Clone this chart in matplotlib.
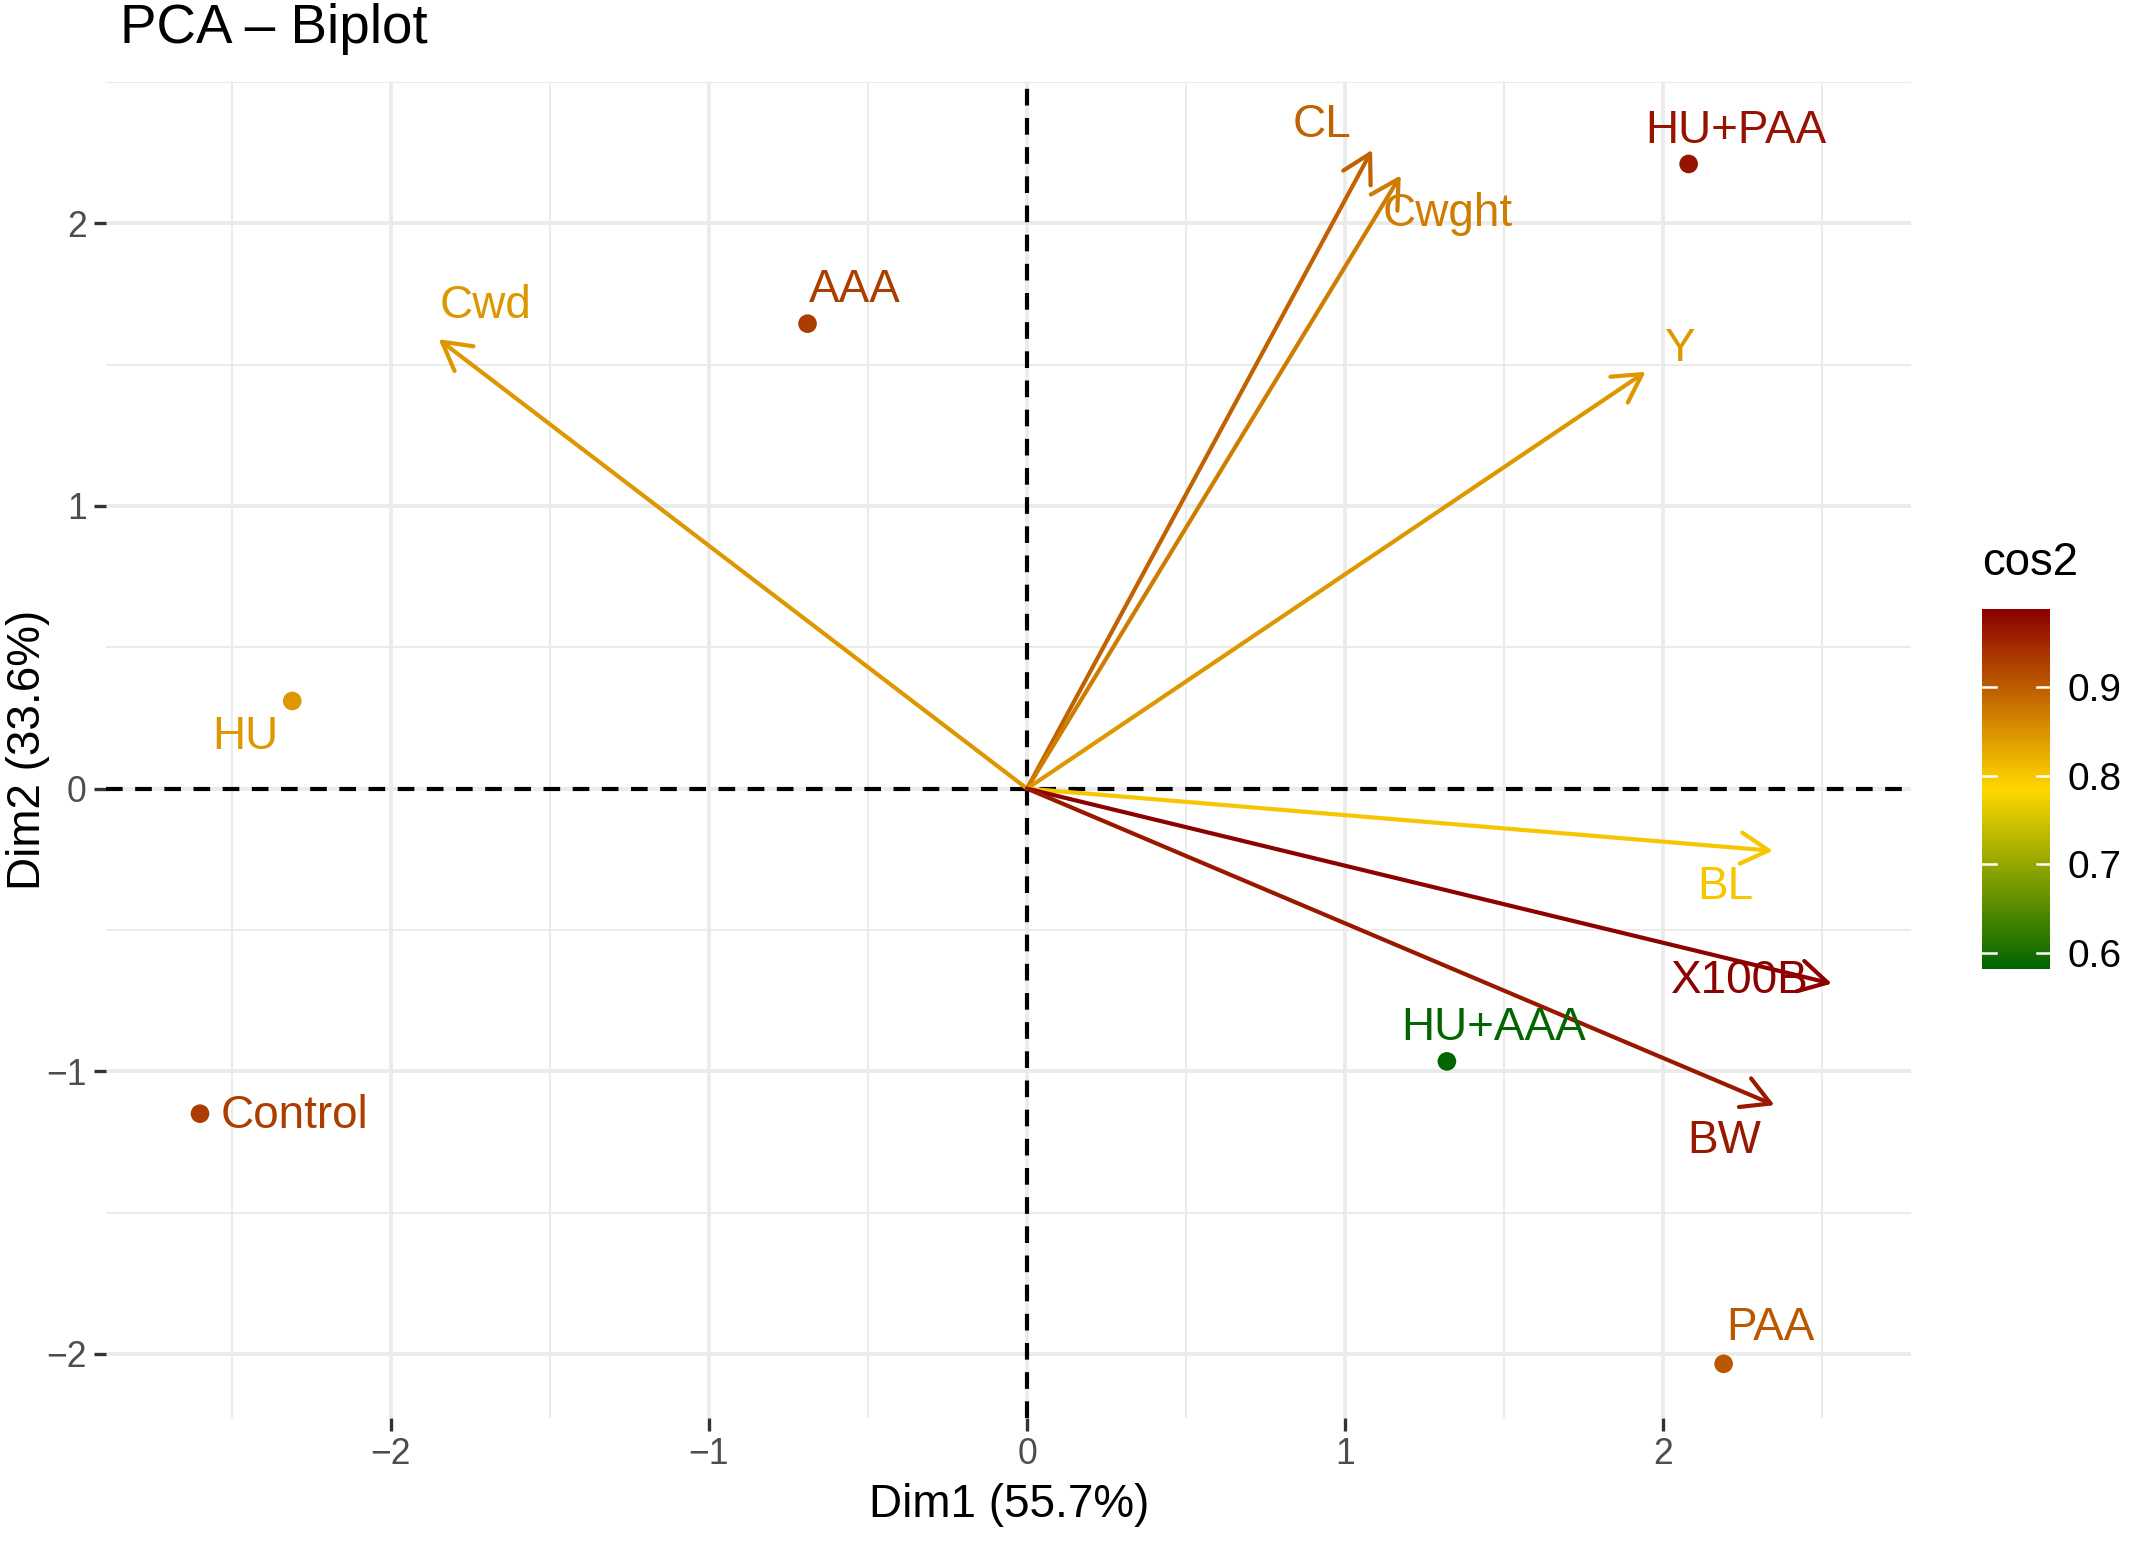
import matplotlib
matplotlib.use("Agg")
from matplotlib import pyplot as plt
from matplotlib.colors import LinearSegmentedColormap, Normalize
import numpy as np

plt.rcParams['font.family'] = ['Liberation Sans', 'DejaVu Sans']

# individuals (PCA coordinates + cos2)
ind_names = ['HU+PAA', 'AAA', 'HU', 'Control', 'HU+AAA', 'PAA']
ind_x = [2.08, -0.69, -2.31, -2.60, 1.32, 2.19]
ind_y = [2.21, 1.645, 0.31, -1.15, -0.965, -2.035]
ind_cos2 = [0.97, 0.93, 0.845, 0.93, 0.585, 0.905]

# variables (arrow tips + cos2)
var_names = ['CL', 'Cwght', 'Cwd', 'Y', 'BL', 'X100B', 'BW']
var_x = [1.085, 1.175, -1.85, 1.945, 2.345, 2.53, 2.35]
var_y = [2.26, 2.17, 1.59, 1.475, -0.22, -0.69, -1.12]
var_cos2 = [0.895, 0.87, 0.845, 0.845, 0.80, 0.985, 0.965]

cos2_min, cos2_max = 0.582, 0.988

# label offsets in points
ind_off = [(17, 12), (17, 12), (-17, -13), (34, -1), (17, 12), (17, 13)]
var_off = [(-18, 9), (17, -14), (17, 12), (12, 8), (-17, -13), (-33, 1), (-18, -13)]

cmap = LinearSegmentedColormap.from_list('cos2', ['#006400', '#FFD700', '#8B0000'])
norm = Normalize(vmin=cos2_min, vmax=cos2_max)

fig = plt.figure(figsize=(10.68, 7.735), dpi=200)
ax = fig.add_axes([0.0497, 0.0837, 0.8451, 0.8633])

ax.set_xlim(-2.895, 2.78)
ax.set_ylim(-2.225, 2.475)
for s in ax.spines.values():
    s.set_visible(False)

ax.set_xticks([-2, -1, 0, 1, 2])
ax.set_yticks([-2, -1, 0, 1, 2])
ax.set_xticks(np.arange(-2.5, 2.6, 1.0), minor=True)
ax.set_yticks(np.arange(-1.5, 2.6, 1.0), minor=True)
ax.grid(which='major', color='#EBEBEB', lw=1.4)
ax.grid(which='minor', color='#EBEBEB', lw=0.7)
ax.set_axisbelow(True)
ax.tick_params(which='major', length=4.5, width=1.2, color='#333333',
               labelsize=12.8, labelcolor='#4D4D4D', pad=2.5)
ax.tick_params(which='minor', length=0)

ax.axhline(0, color='black', lw=1.5, ls=(0, (4, 3)), zorder=2)
ax.axvline(0, color='black', lw=1.5, ls=(0, (4, 3)), zorder=2)

# variable arrows
for name, x, y, c, off in zip(var_names, var_x, var_y, var_cos2, var_off):
    col = cmap(norm(c))
    ax.annotate('', xy=(x, y), xytext=(0, 0),
                arrowprops=dict(arrowstyle='->,head_length=0.5,head_width=0.28',
                                color=col, lw=1.5, shrinkA=0, shrinkB=0,
                                mutation_scale=20), zorder=3)
    ax.annotate(name, xy=(x, y), xytext=off, textcoords='offset points',
                ha='center', va='center', fontsize=16.5, color=col, zorder=4)

# individuals
ax.scatter(ind_x, ind_y, c=ind_cos2, cmap=cmap, norm=norm, s=45, zorder=4,
           edgecolors='none')
for name, x, y, c, off in zip(ind_names, ind_x, ind_y, ind_cos2, ind_off):
    ax.annotate(name, xy=(x, y), xytext=off, textcoords='offset points',
                ha='center', va='center', fontsize=16.5, color=cmap(norm(c)), zorder=4)

ax.set_xlabel('Dim1 (55.7%)', fontsize=16.5, labelpad=4)
ax.set_ylabel('Dim2 (33.6%)', fontsize=16.5)
ax.yaxis.set_label_coords(-0.031, 0.5)
fig.text(0.056, 0.981, 'PCA \u2013 Biplot', fontsize=19.7, ha='left', va='center')

# colour bar
cax = fig.add_axes([0.928, 0.3736, 0.0319, 0.2326])
sm = matplotlib.cm.ScalarMappable(norm=norm, cmap=cmap)
cb = fig.colorbar(sm, cax=cax, ticks=[0.6, 0.7, 0.8, 0.9])
cb.outline.set_visible(False)
cb.ax.tick_params(length=0, labelsize=14, pad=6)
for t in [0.6, 0.7, 0.8, 0.9]:
    cax.plot([0, 0.2], [t, t], color='white', lw=0.9, transform=cax.get_yaxis_transform())
    cax.plot([0.8, 1.0], [t, t], color='white', lw=0.9, transform=cax.get_yaxis_transform())
fig.text(0.928, 0.636, 'cos2', fontsize=16.4, ha='left', va='center')

fig.savefig('out.png', dpi=200, facecolor='white')
